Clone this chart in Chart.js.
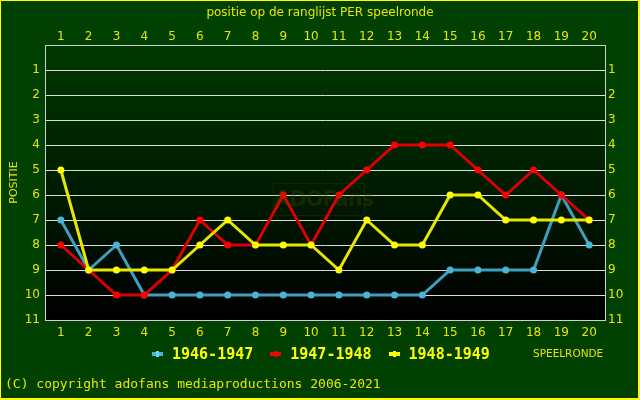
<!DOCTYPE html>
<html>
<head>
<meta charset="utf-8">
<script src="https://cdn.jsdelivr.net/npm/chart.js@4"></script>
<style>
  body { margin: 0; background: #004000; }
  #wrap { position: relative; width: 640px; height: 400px; background: #004000; overflow: hidden; }
  #rand { position: absolute; left: 0; top: 0; width: 640px; height: 400px; box-sizing: border-box; border: 1px solid #ffff00; border-right-width: 2px; border-bottom-width: 2px; pointer-events: none; }
  .txt { position: absolute; white-space: nowrap; }
  #titel { left: 0; width: 640px; top: 5px; text-align: center; font: 12px "DejaVu Sans"; color: #e6e600; }
  #legenda { left: 152px; top: 345px; font: bold 15px "DejaVu Sans Mono"; color: #ffff00; }
  #legenda span.item { display: inline-block; margin-right: 17px; }
  #legenda i { display: inline-block; width: 11px; height: 4px; margin-right: 9px; vertical-align: 3px; position: relative; }
  #legenda i b { position: absolute; left: 4px; top: -1px; width: 3px; height: 6px; background: inherit; filter: brightness(1.2); }
  #speelronde { left: 533px; top: 347px; font: 10.5px "DejaVu Sans"; color: #e6e600; }
  #copy { left: 5px; top: 376px; font: 13px "DejaVu Sans Mono"; color: #e6e600; }
  #merk { left: 273px; top: 183px; width: 92px; height: 33px; box-sizing: border-box; border: 1px solid rgba(70, 80, 0, 0.25); border-radius: 2px; font: bold 21px "DejaVu Sans"; color: rgba(70, 80, 0, 0.3); text-align: center; line-height: 31px; letter-spacing: -1px; }
</style>
</head>
<body>
<div id="wrap">
  <canvas id="grafiek" width="640" height="400"></canvas>
  <div id="titel" class="txt">positie op de ranglijst PER speelronde</div>
  <div id="merk" class="txt">ADOFans</div>
  <div id="legenda" class="txt"></div>
  <div id="speelronde" class="txt">SPEELRONDE</div>
  <div id="copy" class="txt">(C) copyright adofans mediaproductions 2006-2021</div>
  <div id="rand"></div>
</div>
<script>
const rondes = [1, 2, 3, 4, 5, 6, 7, 8, 9, 10, 11, 12, 13, 14, 15, 16, 17, 18, 19, 20];
const posities = [1, 2, 3, 4, 5, 6, 7, 8, 9, 10, 11];

const seizoenen = ['1946-1947', '1947-1948', '1948-1949'];
const pos4647 = [7, 9, 8, 10, 10, 10, 10, 10, 10, 10, 10, 10, 10, 10, 9, 9, 9, 9, 6, 8];
const pos4748 = [8, 9, 10, 10, 9, 7, 8, 8, 6, 8, 6, 5, 4, 4, 4, 5, 6, 5, 6, 7];
const pos4849 = [5, 9, 9, 9, 9, 8, 7, 8, 8, 8, 9, 7, 8, 8, 6, 6, 7, 7, 7, 7];

const lijnKleur = ['#3f9fc0', '#dd0000', '#e6e600'];
const puntKleur = ['#4db3d6', '#ff0000', '#ffff00'];

const geel = '#e6e600';
const tickFont = { family: 'DejaVu Sans', size: 12 };

const maakPunten = (reeks) => rondes.map((r, i) => ({ x: r, y: reeks[i] }));

const alleReeksen = [pos4647, pos4748, pos4849];
const datasets = alleReeksen.map((reeks, i) => ({
    label: seizoenen[i],
    data: maakPunten(reeks),
    borderColor: lijnKleur[i],
    backgroundColor: puntKleur[i],
    pointBackgroundColor: puntKleur[i],
    pointBorderColor: puntKleur[i],
    borderWidth: 3,
    pointRadius: 3.5,
    pointBorderWidth: 0,
    tension: 0,
    order: 3 - i, // 1948-1949 bovenop
}));

// legenda (html)
const legenda = document.getElementById('legenda');
seizoenen.forEach((s, i) => {
    const item = document.createElement('span');
    item.className = 'item';
    item.innerHTML = '<i style="background:' + puntKleur[i] + '"><b></b></i>' + s;
    legenda.appendChild(item);
});

const vasteTicks = (waarden) => (scale) => {
    scale.ticks = waarden.map(v => ({ value: v }));
};

const achtergrond = {
    id: 'achtergrond',
    beforeDraw(chart) {
        const { ctx, chartArea } = chart;
        const g = ctx.createLinearGradient(0, chartArea.top, 0, chartArea.bottom);
        g.addColorStop(0, '#003900');
        g.addColorStop(1, '#000000');
        ctx.save();
        ctx.fillStyle = g;
        ctx.fillRect(chartArea.left, chartArea.top, chartArea.right - chartArea.left, chartArea.bottom - chartArea.top);
        ctx.restore();
    }
};

const rand = { color: '#d0d0d0', width: 1 };

const config = {
    type: 'line',
    data: { datasets: datasets },
    options: {
        responsive: false,
        animation: false,
        layout: { padding: 0, autoPadding: false },
        plugins: {
            legend: { display: false },
            title: { display: false },
            tooltip: { enabled: false }
        },
        scales: {
            x: {
                type: 'linear',
                position: 'bottom',
                min: 0.43,
                max: 20.57,
                afterBuildTicks: vasteTicks(rondes),
                afterFit: (scale) => { scale.height = 80; },
                grid: { display: false, drawTicks: false },
                border: rand,
                ticks: { color: geel, font: tickFont, padding: 6, maxRotation: 0, autoSkip: false }
            },
            xBoven: {
                type: 'linear',
                position: 'top',
                min: 0.43,
                max: 20.57,
                afterBuildTicks: vasteTicks(rondes),
                afterFit: (scale) => { scale.height = 45; },
                grid: { display: false, drawTicks: false },
                border: rand,
                ticks: { color: geel, font: tickFont, padding: 1, maxRotation: 0, autoSkip: false }
            },
            y: {
                type: 'linear',
                position: 'left',
                reverse: true,
                min: 0,
                max: 11,
                afterBuildTicks: vasteTicks(posities),
                afterFit: (scale) => { scale.width = 45; },
                grid: { color: '#dcdcdc', lineWidth: 1, drawTicks: false },
                border: rand,
                ticks: { color: geel, font: tickFont, padding: 5, autoSkip: false },
                title: {
                    display: true,
                    text: 'POSITIE',
                    color: geel,
                    font: { family: 'DejaVu Sans', size: 11 },
                    padding: { top: 8, bottom: 0 }
                }
            },
            yRechts: {
                type: 'linear',
                position: 'right',
                reverse: true,
                min: 0,
                max: 11,
                afterBuildTicks: vasteTicks(posities),
                afterFit: (scale) => { scale.width = 35; },
                grid: { display: false, drawTicks: false },
                border: rand,
                ticks: { color: geel, font: tickFont, padding: 3, autoSkip: false }
            }
        }
    },
    plugins: [achtergrond]
};

const grafiek = new Chart(document.getElementById('grafiek').getContext('2d'), config);
</script>
</body>
</html>
